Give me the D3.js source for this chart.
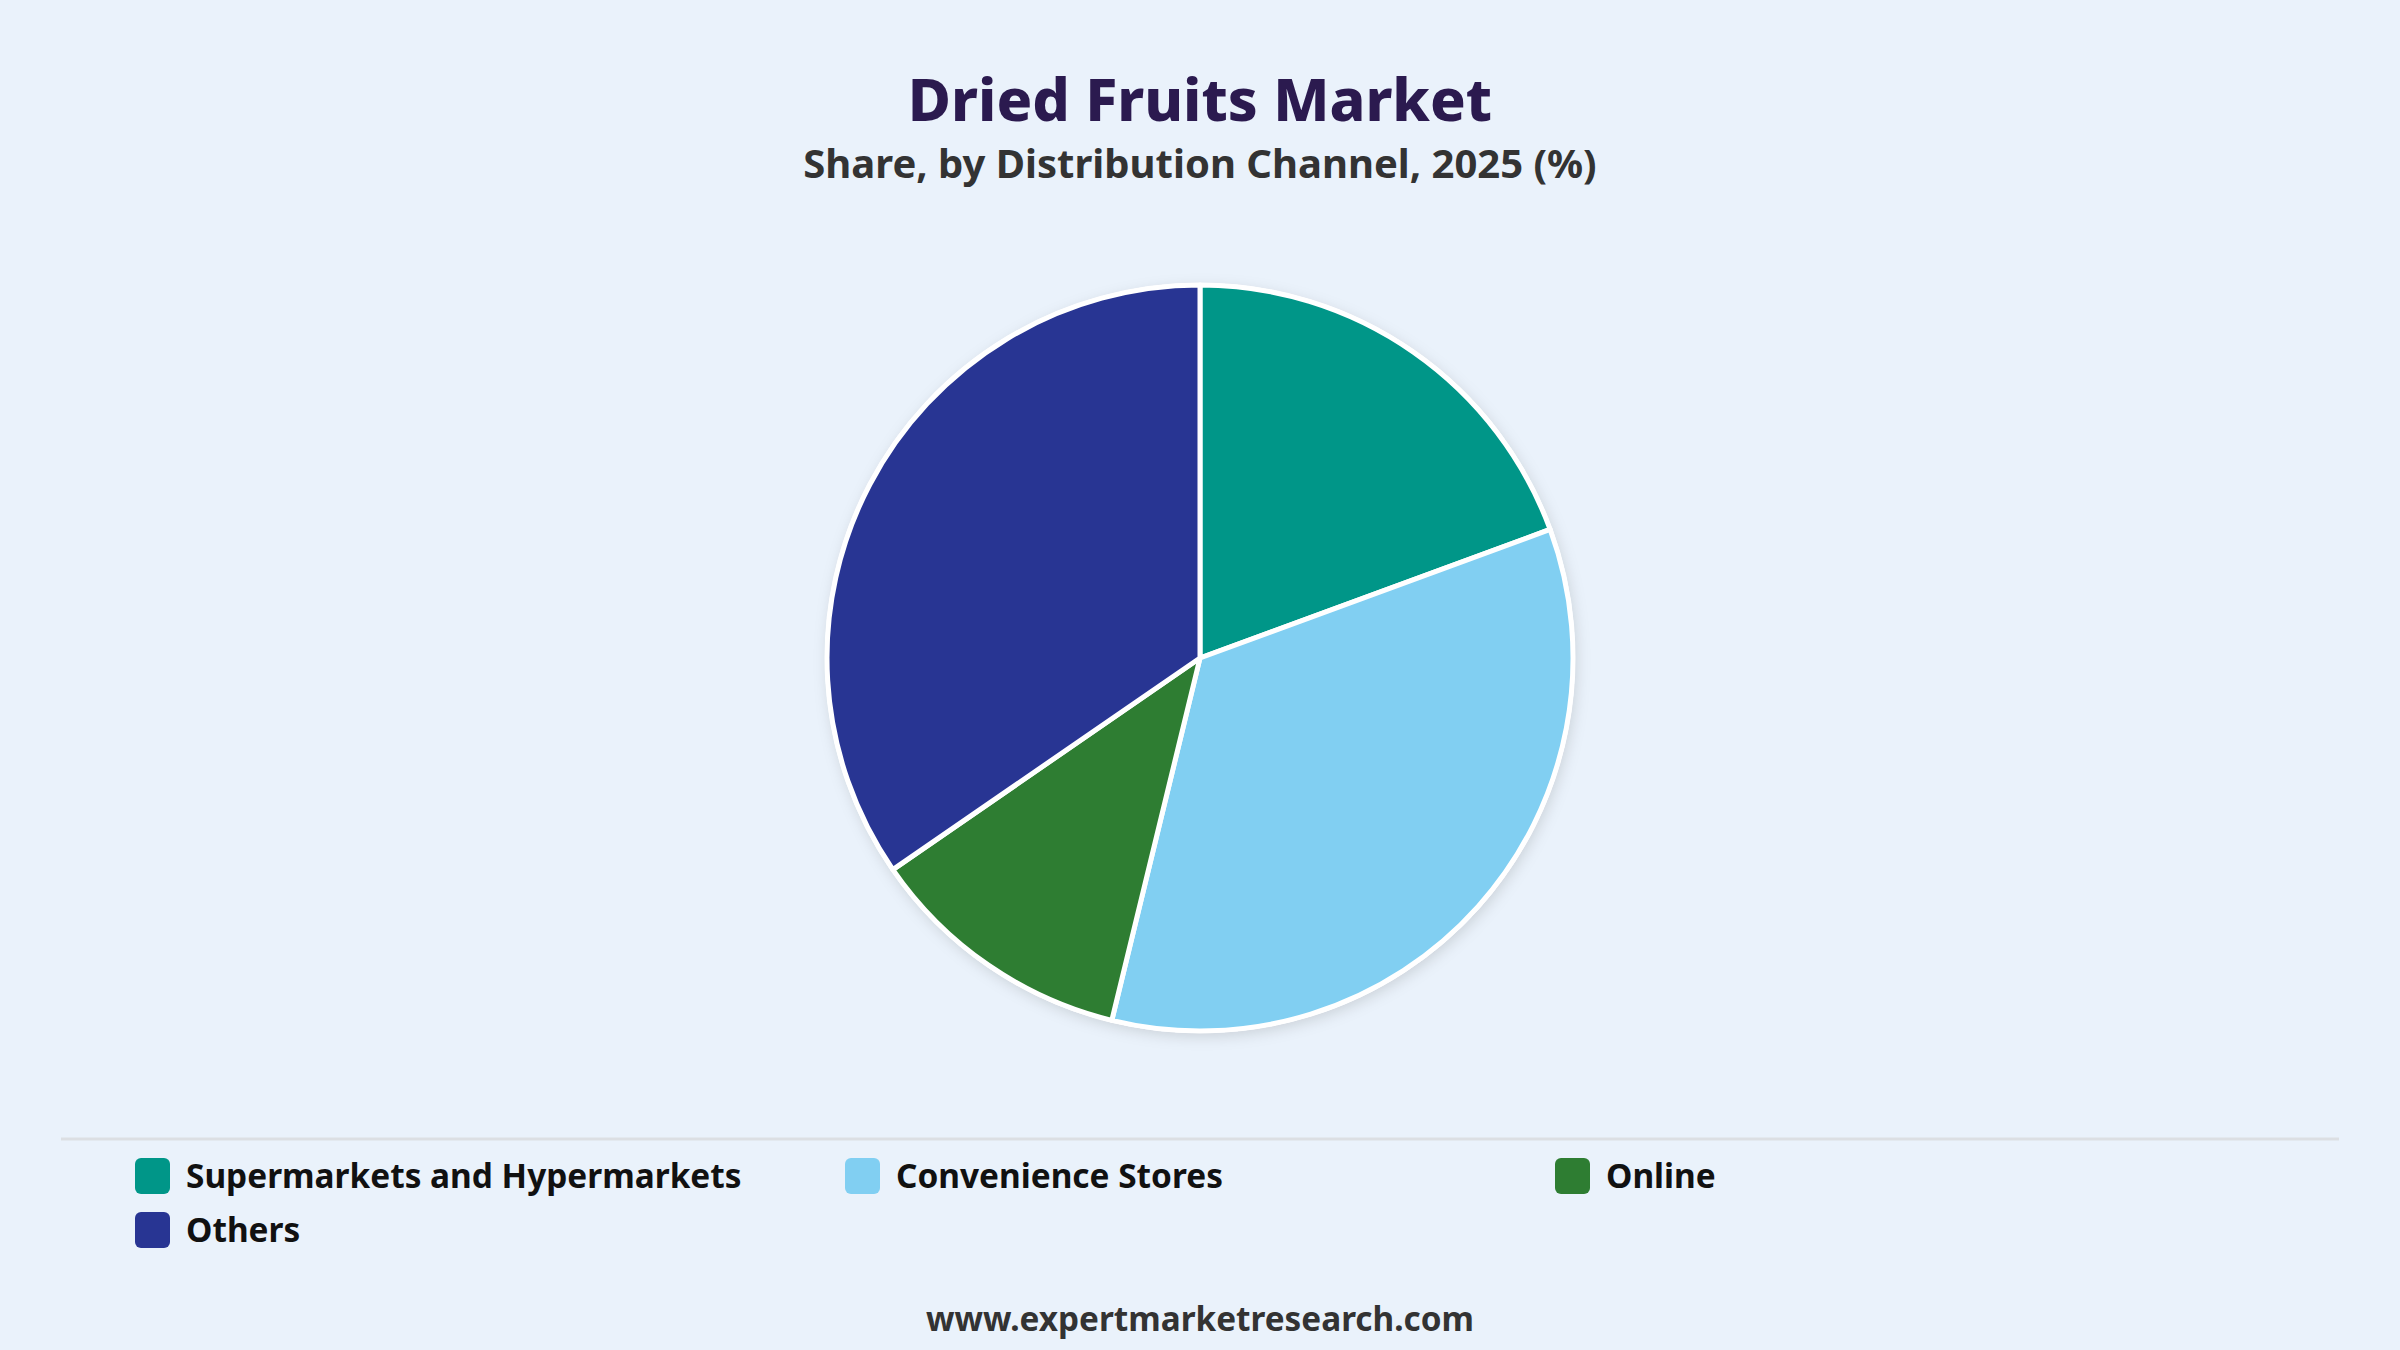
<!DOCTYPE html>
<html>
<head>
<meta charset="utf-8">
<script src="https://cdn.jsdelivr.net/npm/d3@7"></script>
<style>
  html, body { margin: 0; padding: 0; background: #eaf2fb; }
  svg { display: block; font-family: "Noto Sans", "Open Sans", sans-serif; }
</style>
</head>
<body>
<svg id="chart"></svg>
<script>
// data
const categories = ['Supermarkets and Hypermarkets', 'Convenience Stores', 'Online', 'Others'];
const shares = [19.4, 34.4, 11.6, 34.6];
const colours = ['#009688', '#81cff2', '#2e7d32', '#283593'];

const titleText = 'Dried Fruits Market';
const subtitleText = 'Share, by Distribution Channel, 2025 (%)';
const footerText = 'www.expertmarketresearch.com';

const width = 2400, height = 1350;
const svg = d3.select('#chart').attr('width', width).attr('height', height);

svg.append('rect').attr('width', width).attr('height', height).attr('fill', '#eaf2fb');

// drop shadow for the pie
const defs = svg.append('defs');
const shadow = defs.append('filter').attr('id', 'pieShadow')
    .attr('x', '-20%').attr('y', '-20%').attr('width', '140%').attr('height', '140%');
shadow.append('feDropShadow')
    .attr('dx', 2).attr('dy', 4).attr('stdDeviation', 7)
    .attr('flood-color', '#000').attr('flood-opacity', 0.13);

svg.append('text')
    .attr('x', width / 2).attr('y', 121)
    .attr('text-anchor', 'middle')
    .attr('font-size', 59).attr('font-weight', 800)
    .attr('fill', '#2b1a4f')
    .text(titleText);

svg.append('text')
    .attr('x', width / 2).attr('y', 178)
    .attr('text-anchor', 'middle')
    .attr('font-size', 40).attr('font-weight', 700)
    .attr('fill', '#333333')
    .text(subtitleText);

// pie
const cx = 1200, cy = 658, radius = 373;
const pie = d3.pie().sort(null).value(d => d.value);
const arc = d3.arc().innerRadius(0).outerRadius(radius);
const slices = pie(categories.map((c, i) => ({ name: c, value: shares[i] })));

const colour = d3.scaleOrdinal().domain(categories).range(colours);

const g = svg.append('g').attr('transform', `translate(${cx},${cy})`);
g.append('circle').attr('r', radius + 2).attr('fill', '#fff').attr('filter', 'url(#pieShadow)');
g.selectAll('path.slice').data(slices).join('path')
    .attr('class', 'slice')
    .attr('d', arc)
    .attr('fill', d => colour(d.data.name))
    .attr('stroke', '#ffffff')
    .attr('stroke-width', 5)
    .attr('stroke-linejoin', 'round');

// separator
svg.append('line')
    .attr('x1', 61).attr('x2', 2339).attr('y1', 1139).attr('y2', 1139)
    .attr('stroke', '#dcdfe3').attr('stroke-width', 3);

// legend, three columns
const colX = d3.scaleLinear().domain([0, 1]).range([135, 845]);
const rowY = d3.scaleLinear().domain([0, 1]).range([1176, 1230]);
const legend = svg.selectAll('g.legend').data(categories).join('g')
    .attr('class', 'legend')
    .attr('transform', (d, i) => `translate(${colX(i % 3)},${rowY(Math.floor(i / 3))})`);
legend.append('rect')
    .attr('x', 0).attr('y', -18).attr('width', 35).attr('height', 36)
    .attr('rx', 6).attr('fill', d => colour(d));
legend.append('text')
    .attr('x', 51).attr('y', 0).attr('dy', '0.35em')
    .attr('font-size', 33.4).attr('font-weight', 700)
    .attr('fill', '#111111')
    .text(d => d);

svg.append('text')
    .attr('x', width / 2).attr('y', 1331)
    .attr('text-anchor', 'middle')
    .attr('font-size', 33.3).attr('font-weight', 700)
    .attr('fill', '#333333')
    .text(footerText);
</script>
</body>
</html>
